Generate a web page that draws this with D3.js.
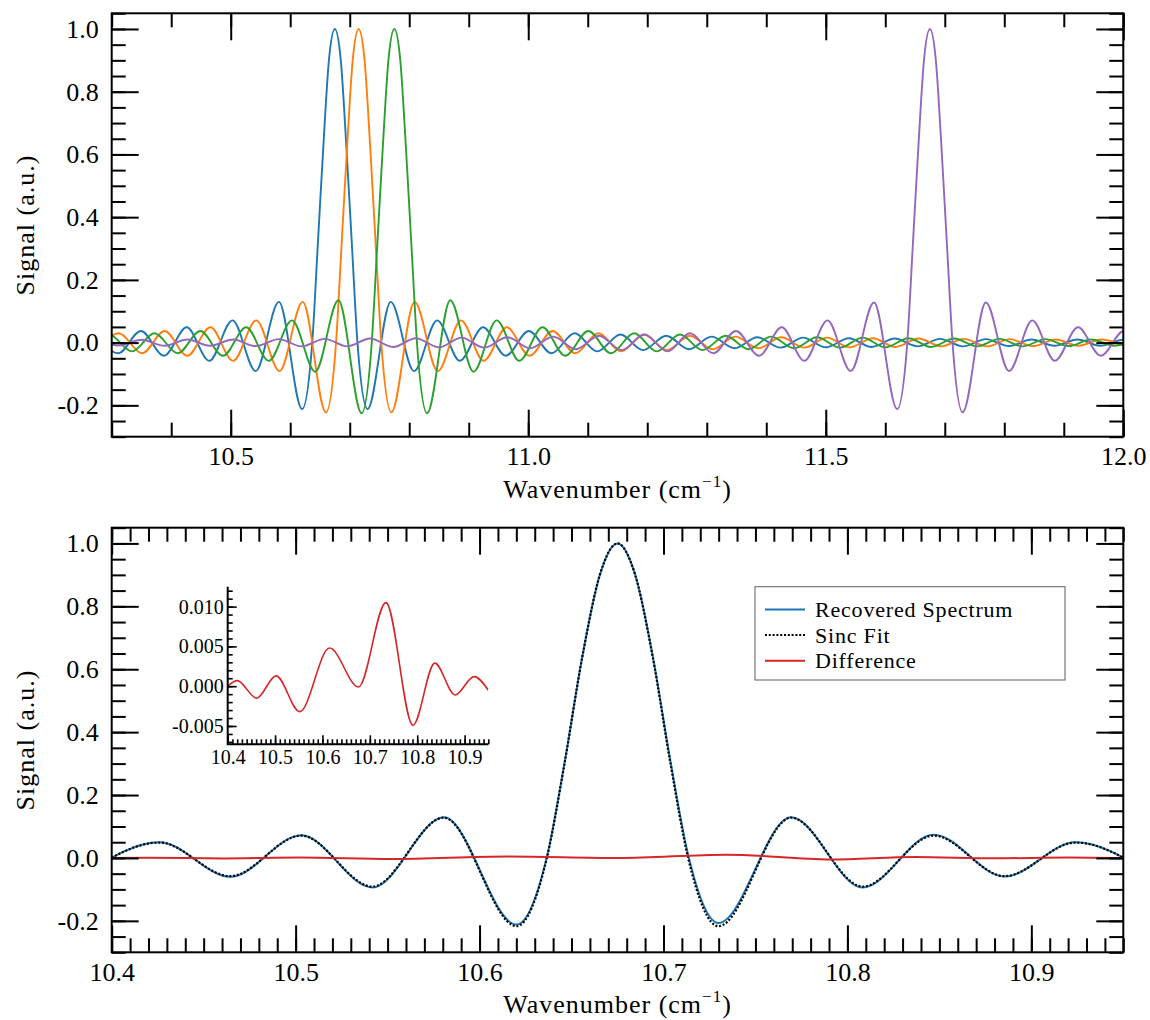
<!DOCTYPE html>
<html>
<head>
<meta charset="utf-8">
<script src="https://cdn.jsdelivr.net/npm/d3@7"></script>
<style>
  body { margin: 0; background: #fff; }
  svg text { font-family: "Liberation Serif", "Times New Roman", serif; fill: #000; }
</style>
</head>
<body>
<svg id="fig" width="1150" height="1020"></svg>
<script>
// ---------------- data ----------------
const topDomainX = [10.3, 12.0];
const bottomDomainX = [10.4, 10.95];
const signalDomain = [-0.3, 1.05];
const insetDomainY = [-0.0073, 0.0125];

const topXTicks = [10.5, 11.0, 11.5, 12.0];
const bottomXTicks = [10.4, 10.5, 10.6, 10.7, 10.8, 10.9];
const signalTicks = [-0.2, 0.0, 0.2, 0.4, 0.6, 0.8, 1.0];
const insetXTicks = [10.4, 10.5, 10.6, 10.7, 10.8, 10.9];
const insetYTicks = [-0.005, 0.0, 0.005, 0.010];

// upper panel: four recovered lines, [wavenumber, signal] at turning points
const topBlue = [[10.272,0.030],[10.311,-0.034],[10.349,0.037],[10.388,-0.042],[10.426,0.049],[10.464,-0.058],[10.503,0.071],[10.542,-0.091],[10.581,0.130],[10.620,-0.212],[10.637,0],[10.646,0.300],[10.656,0.637],[10.665,0.900],[10.675,1.000],[10.685,0.900],[10.694,0.637],[10.704,0.300],[10.713,0],[10.730,-0.212],[10.769,0.130],[10.808,-0.091],[10.847,0.071],[10.885,-0.058],[10.924,0.049],[10.962,-0.042],[11.001,0.037],[11.039,-0.034],[11.078,0.030],[11.116,-0.028],[11.155,0.026],[11.193,-0.024],[11.232,0.022],[11.270,-0.021],[11.308,0.019],[11.347,-0.018],[11.385,0.017],[11.424,-0.016],[11.462,0.016],[11.500,-0.015],[11.539,0.014],[11.577,-0.014],[11.616,0.013],[11.654,-0.012],[11.692,0.012],[11.731,-0.012],[11.769,0.011],[11.808,-0.011],[11.846,0.010],[11.884,-0.010],[11.923,0.010],[11.961,-0.010],[12.000,0.009],[12.038,-0.009]];

const topOrange = [[10.274,-0.028],[10.312,0.030],[10.351,-0.034],[10.389,0.037],[10.427,-0.042],[10.466,0.049],[10.504,-0.058],[10.543,0.071],[10.582,-0.091],[10.621,0.130],[10.660,-0.222],[10.677,0],[10.686,0.300],[10.696,0.637],[10.705,0.900],[10.715,1.000],[10.725,0.900],[10.734,0.637],[10.744,0.300],[10.753,0],[10.770,-0.222],[10.809,0.130],[10.848,-0.091],[10.887,0.071],[10.925,-0.058],[10.964,0.049],[11.002,-0.042],[11.041,0.037],[11.079,-0.034],[11.118,0.030],[11.156,-0.028],[11.195,0.026],[11.233,-0.024],[11.272,0.022],[11.310,-0.021],[11.348,0.019],[11.387,-0.018],[11.425,0.017],[11.464,-0.016],[11.502,0.016],[11.540,-0.015],[11.579,0.014],[11.617,-0.014],[11.656,0.013],[11.694,-0.012],[11.732,0.012],[11.771,-0.012],[11.809,0.011],[11.848,-0.011],[11.886,0.010],[11.925,-0.010],[11.963,0.010],[12.001,-0.010]];

const topGreen = [[10.257,-0.024],[10.295,0.026],[10.334,-0.028],[10.372,0.030],[10.411,-0.034],[10.449,0.037],[10.487,-0.042],[10.526,0.049],[10.564,-0.058],[10.603,0.071],[10.642,-0.093],[10.681,0.135],[10.720,-0.225],[10.737,0],[10.746,0.300],[10.756,0.637],[10.765,0.900],[10.775,1.000],[10.785,0.900],[10.794,0.637],[10.804,0.300],[10.813,0],[10.830,-0.225],[10.869,0.135],[10.908,-0.093],[10.947,0.071],[10.985,-0.058],[11.024,0.049],[11.062,-0.042],[11.101,0.037],[11.139,-0.034],[11.178,0.030],[11.216,-0.028],[11.255,0.026],[11.293,-0.024],[11.332,0.022],[11.370,-0.021],[11.408,0.019],[11.447,-0.018],[11.485,0.017],[11.524,-0.016],[11.562,0.016],[11.600,-0.015],[11.639,0.014],[11.677,-0.014],[11.716,0.013],[11.754,-0.012],[11.792,0.012],[11.831,-0.012],[11.869,0.011],[11.908,-0.011],[11.946,0.010],[11.985,-0.010],[12.023,0.010]];

const topPurple = [[10.273,0.009],[10.312,-0.009],[10.350,0.009],[10.389,-0.010],[10.427,0.010],[10.465,-0.010],[10.504,0.010],[10.542,-0.011],[10.581,0.011],[10.619,-0.012],[10.658,0.012],[10.696,-0.012],[10.734,0.013],[10.773,-0.014],[10.811,0.014],[10.850,-0.015],[10.888,0.016],[10.926,-0.016],[10.965,0.017],[11.003,-0.018],[11.042,0.019],[11.080,-0.021],[11.119,0.022],[11.157,-0.024],[11.195,0.026],[11.234,-0.028],[11.272,0.030],[11.311,-0.034],[11.349,0.037],[11.388,-0.042],[11.426,0.049],[11.464,-0.058],[11.503,0.071],[11.542,-0.091],[11.581,0.128],[11.620,-0.212],[11.637,0],[11.646,0.300],[11.656,0.637],[11.665,0.900],[11.675,1.000],[11.685,0.900],[11.694,0.637],[11.704,0.300],[11.713,0],[11.730,-0.222],[11.769,0.128],[11.808,-0.091],[11.847,0.071],[11.885,-0.058],[11.924,0.049],[11.962,-0.042],[12.001,0.037],[12.039,-0.034]];

// lower panel: one line, its fitted sinc and their difference
const recovered = [[10.3875,-0.043],[10.4260,0.050],[10.4645,-0.060],[10.5031,0.072],[10.5417,-0.094],[10.5806,0.129],[10.6201,-0.212],[10.6366,0.003],[10.6462,0.302],[10.6558,0.638],[10.6654,0.900],[10.6750,1.000],[10.6846,0.901],[10.6942,0.641],[10.7038,0.307],[10.7134,0.010],[10.7299,-0.207],[10.7694,0.129],[10.8083,-0.094],[10.8469,0.074],[10.8855,-0.059],[10.9240,0.050],[10.9625,-0.043]];

const sincFit = [[10.3875,-0.042],[10.4260,0.049],[10.4645,-0.058],[10.5031,0.071],[10.5417,-0.091],[10.5806,0.128],[10.6201,-0.217],[10.6366,0],[10.6462,0.300],[10.6558,0.637],[10.6654,0.900],[10.6750,1.000],[10.6846,0.900],[10.6942,0.637],[10.7038,0.300],[10.7134,0],[10.7299,-0.217],[10.7694,0.128],[10.8083,-0.091],[10.8469,0.071],[10.8855,-0.058],[10.9240,0.049],[10.9625,-0.042]];

const difference = [[10.400,0.0000],[10.420,0.0007],[10.461,-0.0015],[10.502,0.0013],[10.552,-0.0032],[10.615,0.0048],[10.676,-0.0001],[10.734,0.0105],[10.791,-0.0049],[10.837,0.0029],[10.880,-0.0011],[10.920,0.0012],[10.950,-0.0005]];

const topSeries = [
  { data: topBlue,   color: "#1f77b4" },
  { data: topOrange, color: "#ff7f0e" },
  { data: topGreen,  color: "#2ca02c" },
  { data: topPurple, color: "#9467bd" }
];
const legendItems = [
  { label: "Recovered Spectrum", color: "#1f77b4", dash: null },
  { label: "Sinc Fit",           color: "#000000", dash: "2,1.8" },
  { label: "Difference",         color: "#d62728", dash: null }
];

// ---------------- layout ----------------
const FONT = '"Liberation Serif", "Times New Roman", serif';
const svg = d3.select("#fig");
const L = 111.7, R = 1123.3;
const topBox = { top: 13.3, bottom: 436.7 };
const botBox = { top: 527.7, bottom: 952.3 };
const inBox  = { left: 227.7, right: 488.3, top: 586.7, bottom: 744.3 };

const fmt1 = v => d3.format(".1f")(v).replace("\u2212", "-");
const fmt3 = v => d3.format(".3f")(v).replace("\u2212", "-");

const xTop = d3.scaleLinear().domain(topDomainX).range([L, R]);
const yTop = d3.scaleLinear().domain(signalDomain).range([topBox.bottom, topBox.top]);
const xBot = d3.scaleLinear().domain(bottomDomainX).range([L, R]);
const yBot = d3.scaleLinear().domain(signalDomain).range([botBox.bottom, botBox.top]);
const xIn  = d3.scaleLinear().domain(bottomDomainX).range([inBox.left, inBox.right]);
const yIn  = d3.scaleLinear().domain(insetDomainY).range([inBox.bottom, inBox.top]);

const lineGen = (x, y) => d3.line().x(d => x(d[0])).y(d => y(d[1])).curve(d3.curveMonotoneX);

const signalMinor = d3.range(-6, 22).map(v => v / 20);

function clip(id, x, y) {
  const [l, r] = x.range(), [b, t] = y.range();
  svg.append("clipPath").attr("id", id).append("rect")
    .attr("x", l).attr("y", t).attr("width", r - l).attr("height", b - t);
  return svg.append("g").attr("clip-path", `url(#${id})`);
}

function axes(x, y, o) {
  const g = svg.append("g");
  const [l, r] = x.range(), [b, t] = y.range();
  const add = (axis, tx, ty) => g.append("g")
    .attr("transform", `translate(${tx},${ty})`)
    .call(axis)
    .call(s => s.select(".domain").remove())
    .attr("font-family", FONT).attr("font-size", o.font)
    .call(s => s.selectAll("line").attr("stroke-width", o.tickW));
  add(d3.axisBottom(x).tickValues(o.xMinor).tickSize(-o.minLen).tickFormat(""), 0, b);
  add(d3.axisBottom(x).tickValues(o.xMajor).tickSize(-o.majLen).tickPadding(o.xPad).tickFormat(o.xFmt), 0, b);
  add(d3.axisLeft(y).tickValues(o.yMinor).tickSize(-o.minLen).tickFormat(""), l, 0);
  add(d3.axisLeft(y).tickValues(o.yMajor).tickSize(-o.majLen).tickPadding(o.yPad).tickFormat(o.yFmt), l, 0);
  if (o.mirror) {
    add(d3.axisTop(x).tickValues(o.xMinor).tickSize(-o.minLen).tickFormat(""), 0, t);
    add(d3.axisTop(x).tickValues(o.xMajor).tickSize(-o.majLen).tickFormat(""), 0, t);
    add(d3.axisRight(y).tickValues(o.yMinor).tickSize(-o.minLen).tickFormat(""), r, 0);
    add(d3.axisRight(y).tickValues(o.yMajor).tickSize(-o.majLen).tickFormat(""), r, 0);
    g.append("rect").attr("x", l).attr("y", t).attr("width", r - l).attr("height", b - t)
      .attr("fill", "none").attr("stroke", "#000").attr("stroke-width", o.frameW);
  } else {
    g.append("path").attr("d", `M${l},${t}V${b}H${r}`)
      .attr("fill", "none").attr("stroke", "#000").attr("stroke-width", o.frameW);
  }
}

function wavenumberLabel(cx, baseline) {
  const t = svg.append("text").attr("x", cx).attr("y", baseline)
    .attr("text-anchor", "middle").attr("font-size", 26).attr("letter-spacing", "1px");
  t.append("tspan").text("Wavenumber (cm");
  t.append("tspan").attr("font-size", 17).attr("dy", -11).text("\u22121");
  t.append("tspan").attr("dy", 11).text(")");
}
function signalLabel(cy) {
  svg.append("text").attr("transform", `translate(34,${cy}) rotate(-90)`)
    .attr("text-anchor", "middle").attr("font-size", 26).attr("letter-spacing", "1px")
    .text("Signal (a.u.)");
}

// ---------------- upper panel ----------------
const gTop = clip("clipTop", xTop, yTop);
topSeries.forEach(s => {
  gTop.append("path").datum(s.data).attr("d", lineGen(xTop, yTop))
    .attr("fill", "none").attr("stroke", s.color).attr("stroke-width", 1.9);
});
axes(xTop, yTop, {
  xMajor: topXTicks, xMinor: d3.range(103, 121).map(v => v / 10),
  yMajor: signalTicks, yMinor: signalMinor,
  xFmt: fmt1, yFmt: fmt1, majLen: 27, minLen: 14, xPad: 10, yPad: 13,
  font: 26, tickW: 2, frameW: 2, mirror: true
});
wavenumberLabel((L + R) / 2, 498);
signalLabel((topBox.top + topBox.bottom) / 2);

// ---------------- lower panel ----------------
const gBot = clip("clipBot", xBot, yBot);
gBot.append("path").datum(recovered).attr("d", lineGen(xBot, yBot))
  .attr("fill", "none").attr("stroke", "#1f77b4").attr("stroke-width", 2);
gBot.append("path").datum(sincFit).attr("d", lineGen(xBot, yBot))
  .attr("fill", "none").attr("stroke", "#000").attr("stroke-width", 2.2)
  .attr("stroke-dasharray", "2,1.8");
gBot.append("path").datum(difference).attr("d", lineGen(xBot, yBot))
  .attr("fill", "none").attr("stroke", "#d62728").attr("stroke-width", 2);
axes(xBot, yBot, {
  xMajor: bottomXTicks, xMinor: d3.range(1040, 1096).map(v => v / 100),
  yMajor: signalTicks, yMinor: signalMinor,
  xFmt: fmt1, yFmt: fmt1, majLen: 27, minLen: 14, xPad: 10, yPad: 13,
  font: 26, tickW: 2, frameW: 2, mirror: true
});
wavenumberLabel((L + R) / 2, 1013);
signalLabel((botBox.top + botBox.bottom) / 2);

// legend
const lg = svg.append("g");
lg.append("rect").attr("x", 755).attr("y", 586.7).attr("width", 310).attr("height", 93.3)
  .attr("fill", "#fff").attr("stroke", "#777").attr("stroke-width", 1.2);
legendItems.forEach((d, i) => {
  const cy = 609.5 + i * 25.6;
  lg.append("line").attr("x1", 765).attr("x2", 805).attr("y1", cy).attr("y2", cy)
    .attr("stroke", d.color).attr("stroke-width", 2)
    .attr("stroke-dasharray", d.dash);
  lg.append("text").attr("x", 815).attr("y", cy).attr("dy", "0.34em")
    .attr("font-size", 22).attr("letter-spacing", "0.8px").text(d.label);
});

// inset: difference on its own scale
svg.append("rect").attr("x", inBox.left).attr("y", inBox.top)
  .attr("width", inBox.right - inBox.left).attr("height", inBox.bottom - inBox.top)
  .attr("fill", "#fff");
const gIn = clip("clipIn", xIn, yIn);
gIn.append("path").datum(difference).attr("d", lineGen(xIn, yIn))
  .attr("fill", "none").attr("stroke", "#d62728").attr("stroke-width", 1.6);
axes(xIn, yIn, {
  xMajor: insetXTicks, xMinor: d3.range(1040, 1096).map(v => v / 100),
  yMajor: insetYTicks, yMinor: d3.range(-7, 13).map(v => v / 1000),
  xFmt: fmt1, yFmt: fmt3, majLen: 9, minLen: 5, xPad: 6, yPad: 4,
  font: 20, tickW: 1.6, frameW: 2, mirror: false
});
</script>
</body>
</html>
